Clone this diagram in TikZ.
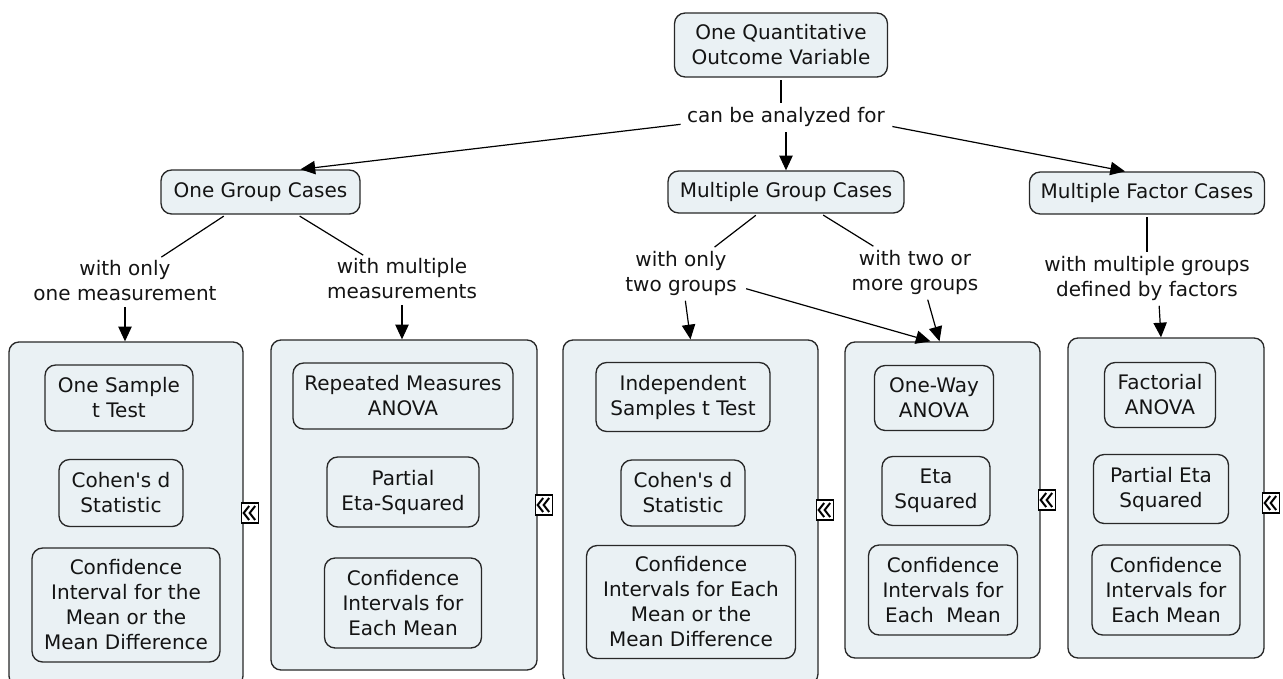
\documentclass[tikz,border=0pt]{standalone}
\usepackage{fontspec}
\setmainfont{DejaVu Sans}
\usetikzlibrary{arrows.meta,calc}
\definecolor{nodefill}{RGB}{234,241,244}
\definecolor{nodeedge}{RGB}{40,40,40}
\definecolor{txt}{RGB}{20,20,20}
\newcommand\cmfont{\fontsize{15pt}{18.75pt}\selectfont}
\tikzset{
  cbox/.style 2 args={draw=nodeedge, line width=1pt, fill=nodefill, rounded corners=8pt,
    minimum width=#1*0.75pt, minimum height=#2*0.75pt, inner sep=0pt,
    align=center, font=\cmfont, text=txt},
  contbox/.style 2 args={draw=nodeedge, line width=1pt, fill=nodefill, rounded corners=7.5pt,
    minimum width=#1*0.75pt, minimum height=#2*0.75pt, inner sep=0pt},
  lab/.style={font=\cmfont, text=txt, align=center, inner sep=2pt},
  conn/.style={draw=black, line width=0.9pt, shorten <=2pt, shorten >=1pt},
  arr/.style={draw=black, line width=0.9pt, shorten <=2pt, -{Triangle[length=11pt,width=10pt]}},
  collapse/.pic={
    \draw[line width=1pt, draw=black, fill=white] (-8.5,-10) rectangle (8.5,10);
    \draw[line width=1.5pt, line join=miter] (-0.5,-7) -- (-6,0) -- (-0.5,7);
    \draw[line width=1.5pt, line join=miter] (5.5,-7) -- (0,0) -- (5.5,7);
  }
}
\begin{document}
\begin{tikzpicture}[x=0.75pt,y=-0.75pt]
\path[use as bounding box] (0,0) rectangle (1283,679);
\clip (0,0) rectangle (1283,679);
\fill[white] (0,0) rectangle (1283,679);

% top level
\node[cbox={213}{64}] (top) at (781,45) {One Quantitative\\Outcome Variable};
\node[lab] (lab0) at (786,117) {can be analyzed for};
\node[cbox={199}{44}] (ogc) at (260.5,192) {One Group Cases};
\node[cbox={236}{42}] (mgc) at (786,192) {Multiple Group Cases};
\node[cbox={235}{42}] (mfc) at (1147,193) {Multiple Factor Cases};

% linking phrases
\node[lab] (lab1) at (125,281) {with only\\one measurement};
\node[lab] (lab2) at (402,279) {with multiple\\measurements};
\node[lab] (lab3) at (681,273) {with only\\two groups};
\node[lab] (lab4) at (915,272) {with two or\\more groups};
\node[lab] (lab5) at (1147,278) {with multiple groups\\defined by factors};

% containers
\node[contbox={234}{344}] (box1) at (126,514) {};
\node[contbox={266}{330}] (box2) at (404,505) {};
\node[contbox={255}{344}] (box3) at (690.5,512) {};
\node[contbox={195}{316}] (box4) at (942.5,500) {};
\node[contbox={196}{320}] (box5) at (1166,498) {};

% box 1
\node[cbox={148}{66}] (a1) at (119,398) {One Sample\\t Test};
\node[cbox={124}{67}] (a2) at (121,493) {Cohen\textquotesingle s d\\Statistic};
\node[cbox={188}{114}] (a3) at (126,605) {Confidence\\Interval for the\\Mean or the\\Mean Difference};
% box 2
\node[cbox={220}{66}] (b1) at (403,396) {Repeated Measures\\ANOVA};
\node[cbox={152}{70}] (b2) at (403,492) {Partial\\Eta-Squared};
\node[cbox={157}{90}] (b3) at (403,603) {Confidence\\Intervals for\\Each Mean};
% box 3
\node[cbox={174}{69}] (c1) at (683,397) {Independent\\Samples t Test};
\node[cbox={124}{66}] (c2) at (683,493) {Cohen\textquotesingle s d\\Statistic};
\node[cbox={209}{113}] (c3) at (691,602) {Confidence\\Intervals for Each\\Mean or the\\Mean Difference};
% box 4
\node[cbox={119}{65}] (d1) at (934,398) {One-Way\\ANOVA};
\node[cbox={108}{69}] (d2) at (936,491) {Eta\\Squared};
\node[cbox={149}{90}] (d3) at (943,590) {Confidence\\Intervals for\\Each\ \ Mean};
% box 5
\node[cbox={111}{65}] (e1) at (1160,395) {Factorial\\ANOVA};
\node[cbox={135}{69}] (e2) at (1161,489) {Partial Eta\\Squared};
\node[cbox={148}{90}] (e3) at (1166,590) {Confidence\\Intervals for\\Each Mean};

% collapse icons
\pic at ($(box1.east)+(6,-1)$) {collapse};
\pic at ($(box2.east)+(6,0)$) {collapse};
\pic at ($(box3.east)+(6,-2)$) {collapse};
\pic at ($(box4.east)+(6,0)$) {collapse};
\pic at ($(box5.east)+(6,5)$) {collapse};

% connectors
\draw[conn] (top) -- (top |- lab0.north);
\draw[arr] ($(lab0.west)+(-1,7)$) -- ($(ogc.north)+(40,0)$);
\draw[arr] (lab0.south -| mgc.north) -- (mgc.north);
\draw[arr] ($(lab0.east)+(2,9)$) -- ($(mfc.north)+(-22,0)$);

\draw[conn] (ogc) -- (lab1);
\draw[conn] (ogc) -- (lab2);
\draw[conn] (mgc) -- (lab3);
\draw[conn] (mgc) -- (lab4);
\draw[conn] (mfc) -- (lab5);

\draw[arr] (lab1.south) -- (lab1.south |- box1.north);
\draw[arr] (lab2.south) -- (lab2.south |- box2.north);
\draw[arr] ($(lab3.south)+(4,0)$) -- (box3.north);
\draw[arr] ($(lab3.east)+(4,15)$) -- ($(box4.north)+(-12,0)$);
\draw[arr] ($(lab4.south)+(12,0)$) -- ($(box4.north)+(-3,0)$);
\draw[arr] ($(lab5.south)+(12,0)$) -- ($(box5.north)+(-5,0)$);
\end{tikzpicture}
\end{document}
